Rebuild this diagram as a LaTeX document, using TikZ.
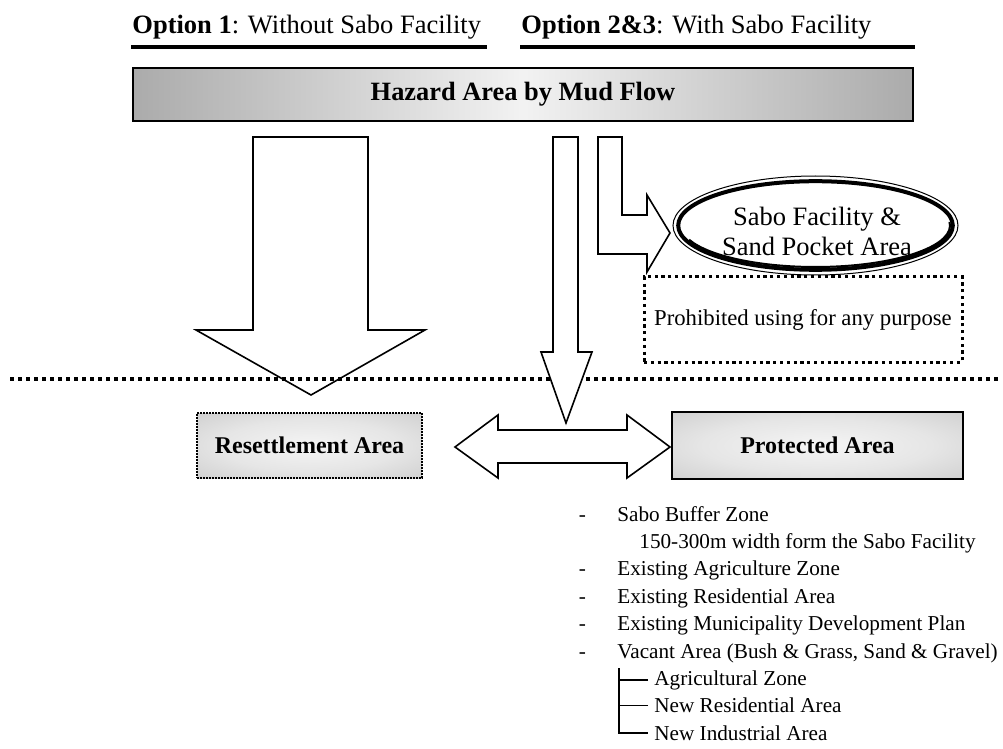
\documentclass[tikz,border=0pt]{standalone}
\usepackage{fontspec}
\setmainfont{Liberation Serif}
\usetikzlibrary{positioning, shapes.geometric}

\pgfdeclareradialshading{areashade}{\pgfpoint{0bp}{0bp}}{color(0bp)=(white!96!black); color(20bp)=(white!90!black); color(50bp)=(black!26); color(71bp)=(black!40)}

\tikzset{
  optlabel/.style={anchor=base west, inner sep=0pt, font=\fontsize{13.25}{15}\selectfont},
  optline/.style={line width=1.6pt},
  areabox/.style={draw, line width=0.85pt, shade, shading=areashade, inner sep=0pt, font=\fontsize{12}{14}\selectfont\bfseries},
  blockarrow/.style={draw, fill=white, line width=0.8pt, line join=miter},
  dotline/.style={line width=1.8pt, dash pattern=on 2pt off 2pt},
  listitem/.style={anchor=base west, inner sep=0pt, font=\fontsize{10.6}{12}\selectfont},
  treeline/.style={line width=0.9pt}
}

\begin{document}
\begin{tikzpicture}[x=0.5pt,y=-0.5pt]
\useasboundingbox (0,0) rectangle (1003,749);

% the two options
\node[optlabel] (opt1) at (132,34) {\textbf{Option 1}: Without Sabo Facility};
\node[optlabel] (opt2) at (521,34) {\textbf{Option 2\&3}: With Sabo Facility};
\draw[optline] (131,47) -- (487,47);
\draw[optline] (520,47) -- (915,47);

% hazard bar
\node[draw, line width=0.85pt, inner sep=0pt, left color=black!33, right color=black!33, middle color=white!95!black,
  minimum width=390pt, minimum height=26.5pt, font=\fontsize{13.2}{15}\selectfont\bfseries] (hazard) at (523,94.5) {Hazard Area by Mud Flow};

% option 1 arrow
\draw[blockarrow] (253,137) -- (253,330) -- (196,330) -- (311,395) -- (425,330) -- (368,330) -- (368,137) -- cycle;

% dividing line
\draw[dotline] (10,379) -- (998,379);

% option 2&3 arrows
\draw[blockarrow] (553,137) -- (553,352) -- (541,352) -- (566,423) -- (592,352) -- (578,352) -- (578,137) -- cycle;
\draw[blockarrow] (598,137) -- (598,254) -- (647,254) -- (647,272) -- (670,233) -- (647,195) -- (647,215) -- (622,215) -- (622,137) -- cycle;

% sabo facility
\node[draw, ellipse, line width=2pt, inner sep=0pt, minimum width=137.3pt, minimum height=44.3pt] (sabo) at (815.5,225.5) {};
\draw[line width=0.5pt] (sabo.center) ellipse [x radius=142.5, y radius=49.5];
\draw[line width=1pt] (sabo.center) ++(-5:134.5 and 41.5) arc[start angle=-5, end angle=160, x radius=134.5, y radius=41.5];
\node[align=center, inner sep=0pt, font=\fontsize{13.25}{15}\selectfont] (sabotext) at (817,231.5) {Sabo Facility \&\\Sand Pocket Area};

\node[draw, line width=1.5pt, dash pattern=on 1.6pt off 1.8pt, inner sep=0pt, minimum width=159pt, minimum height=42.5pt,
  font=\fontsize{11.35}{13}\selectfont] (prohib) at (803,319.5) {Prohibited using for any purpose\rule{0pt}{4pt}};

% areas
\node[areabox, line width=1.3pt, dash pattern=on 0.9pt off 0.6pt, minimum width=112.5pt, minimum height=32.5pt] (resettle) at (309.5,445.5) {Resettlement Area};
\node[areabox, line width=1.3pt, minimum width=145.5pt, minimum height=33.5pt] (protect) at (817.5,445.5) {Protected Area};

\draw[blockarrow] (455,447) -- (498,415) -- (498,430) -- (627,430) -- (627,415) -- (670,447) -- (627,478) -- (627,463) -- (498,463) -- (498,478) -- cycle;

% list under protected area
\foreach \y in {521,575.8,603.2,630.6,658}
\node[listitem] at (578.5,\y) {-};
\node[listitem] (buffer) at (617,521) {Sabo Buffer Zone};
\node[listitem] (bufwidth) at (639,548.4) {150-300m width form the Sabo Facility};
\node[listitem] (agri) at (617,575.8) {Existing Agriculture Zone};
\node[listitem] (resid) at (617,603.2) {Existing Residential Area};
\node[listitem] (plan) at (617,630.6) {Existing Municipality Development Plan};
\node[listitem] (vacant) at (617,658) {Vacant Area (Bush \& Grass, Sand \& Gravel)};
\node[listitem] (newagri) at (654,685.4) {Agricultural Zone};
\node[listitem] (newres) at (654,712.8) {New Residential Area};
\node[listitem] (newind) at (654,740.2) {New Industrial Area};

\coordinate (treetop) at (619,668);
\draw[treeline] (treetop) |- ([xshift=-3pt]newind.west);
\foreach \n in {newagri,newres}
\draw[treeline] ([xshift=-3pt]\n.west) -- (treetop |- \n.west);

\end{tikzpicture}
\end{document}
